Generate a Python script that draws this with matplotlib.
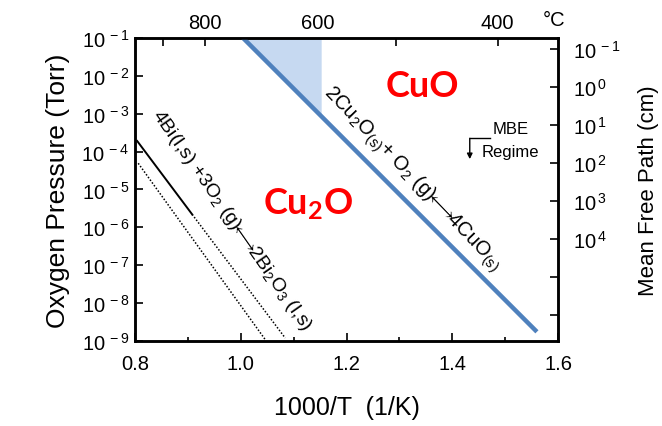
import numpy as np
import matplotlib
matplotlib.use("Agg")
import matplotlib.pyplot as plt
from matplotlib.ticker import FixedLocator, LogLocator, NullFormatter, FuncFormatter, MultipleLocator

plt.rcParams['font.family'] = ['Liberation Sans', 'DejaVu Sans']
plt.rcParams['mathtext.default'] = 'regular'

# --- data ---
# Cu2O / CuO equilibrium line (1000/T, Torr)
cu_x = [1.004, 1.560]
cu_p = [1e-1, 1.75e-9]
# shaded corner next to the Cu line
shade_x = [1.004, 1.152]
# Bi / Bi2O3 lines
bi_solid_x = [0.804, 0.908]
bi_solid_p = [1.9e-4, 2.2e-6]
bi_dot1_x = [0.908, 1.084]
bi_dot1_p = [2.2e-6, 1.2e-9]
bi_dot2_x = [0.806, 1.046]
bi_dot2_p = [4.9e-5, 1.1e-9]

# axes / ticks
x_ticks = [0.8, 1.0, 1.2, 1.4, 1.6]
p_decades = list(range(-9, 0))
top_temps_c = [900, 800, 700, 600, 500, 400]
top_labels = ['', '800', '', '600', '', '400']
mfp_const = 5e-3          # mean free path (cm) = const / P (Torr)
mfp_decades = [-1, 0, 1, 2, 3, 4, 5, 6]
mfp_labelled = [-1, 0, 1, 2, 3, 4]

fig = plt.figure(figsize=(6.62, 4.27), dpi=100)
ax = fig.add_axes([0.204, 0.199, 0.639, 0.710])

# shaded region and lines
sx = np.linspace(shade_x[0], shade_x[1], 50)
slope = (np.log10(cu_p[1]) - np.log10(cu_p[0])) / (cu_x[1] - cu_x[0])
sy = 10 ** (np.log10(cu_p[0]) + slope * (sx - cu_x[0]))
ax.fill_between(sx, sy, cu_p[0], color='#c6d9f1', lw=0, zorder=1)
ax.plot(cu_x, cu_p, color='#4f81bd', lw=3.2, solid_capstyle='butt', zorder=3)
ax.plot(bi_solid_x, bi_solid_p, color='black', lw=1.4, zorder=2)
ax.plot(bi_dot1_x, bi_dot1_p, color='black', lw=1.1, ls=(0, (1, 1.2)), zorder=2)
ax.plot(bi_dot2_x, bi_dot2_p, color='black', lw=1.1, ls=(0, (1, 1.2)), zorder=2)

ax.set_yscale('log')
ax.set_xlim(0.8, 1.6)
ax.set_ylim(1e-9, 1e-1)
ax.xaxis.set_major_locator(FixedLocator(x_ticks))
ax.xaxis.set_minor_locator(MultipleLocator(0.1))
ax.xaxis.set_major_formatter(FuncFormatter(lambda v, p: '%.1f' % v))
ax.yaxis.set_major_locator(FixedLocator([10.0 ** d for d in p_decades]))
ax.yaxis.set_minor_locator(LogLocator(base=10, subs=np.arange(2, 10)))
ax.yaxis.set_minor_formatter(NullFormatter())
ax.yaxis.set_major_formatter(FuncFormatter(
    lambda v, p: r'$\mathregular{10^{\,%d}}$' % round(np.log10(v))))

ax.tick_params(which='both', direction='in', labelsize=14.5, width=1.2)
ax.tick_params(which='major', length=6)
ax.tick_params(which='minor', length=3)
ax.tick_params(axis='x', pad=9)
ax.tick_params(axis='y', pad=4)
for s in ax.spines.values():
    s.set_linewidth(1.8)

ax.set_xlabel('1000/T  (1/K)', fontsize=18, labelpad=16)
ax.set_ylabel('Oxygen Pressure (Torr)', fontsize=19, labelpad=8)

# top temperature axis
top = ax.secondary_xaxis('top')
top.set_xticks([1000.0 / (t + 273.15) for t in top_temps_c])
top.set_xticklabels(top_labels)
top.tick_params(direction='in', length=6, width=1.2, labelsize=14.5, pad=4)
top.xaxis.set_minor_locator(FixedLocator([]))
ax.text(0.99, 1.062, '°C', transform=ax.transAxes, fontsize=14.5,
        ha='center', va='center')

# right mean free path axis
rax = ax.twinx()
rax.set_yscale('log')
rax.set_ylim(mfp_const / 1e-9, mfp_const / 1e-1)
rax.yaxis.set_major_locator(FixedLocator([10.0 ** d for d in mfp_decades]))
rax.yaxis.set_minor_locator(LogLocator(base=10, subs=np.arange(2, 10)))
rax.yaxis.set_minor_formatter(NullFormatter())
rax.yaxis.set_major_formatter(FuncFormatter(
    lambda v, p: (r'$\mathregular{10^{\,%d}}$' % round(np.log10(v)))
    if round(np.log10(v)) in mfp_labelled else ''))
rax.tick_params(which='both', direction='in', labelsize=14.5, width=1.2, pad=11)
rax.tick_params(which='major', length=6)
rax.tick_params(which='minor', length=3)
rax.set_ylabel('Mean Free Path (cm)', fontsize=16, labelpad=12)
for s in rax.spines.values():
    s.set_linewidth(1.8)

# annotations
ax.text(0.983, 10 ** -5.79,
        r'4Bi(l,s) +3O$_2$ (g)$\!\!\longleftrightarrow\!\!$2Bi$_2$O$_3$ (l,s)',
        rotation=-55, rotation_mode='anchor', ha='center', va='center',
        fontsize=14)
ax.text(1.323, 10 ** -4.70,
        r'2Cu$_2$O$_{(s)}$+ O$_2$ (g)$\!\!\longleftrightarrow\!\!$4CuO$_{(s)}$',
        rotation=-46, rotation_mode='anchor', ha='center', va='center',
        fontsize=14.5)
ax.text(1.344, 10 ** -2.25, 'CuO', color='red', fontsize=26,
        fontweight='bold', family='Lato', ha='center', va='center')
ax.text(1.127, 10 ** -5.37, r'Cu$_2$O', color='red', fontsize=26,
        fontweight='bold', family='Lato', ha='center', va='center')
ax.text(1.477, 10 ** -3.38, 'MBE', fontsize=12, ha='left', va='center')
ax.text(1.456, 10 ** -4.0, 'Regime', fontsize=12, ha='left', va='center')
ax.plot([1.433, 1.471], [10 ** -3.65, 10 ** -3.65], color='black', lw=1)
ax.annotate('', xy=(1.433, 10 ** -4.2), xytext=(1.433, 10 ** -3.65),
            arrowprops=dict(arrowstyle='-|>', lw=1, color='black',
                            mutation_scale=8, shrinkA=0, shrinkB=0))

fig.savefig('out.png', dpi=100)
